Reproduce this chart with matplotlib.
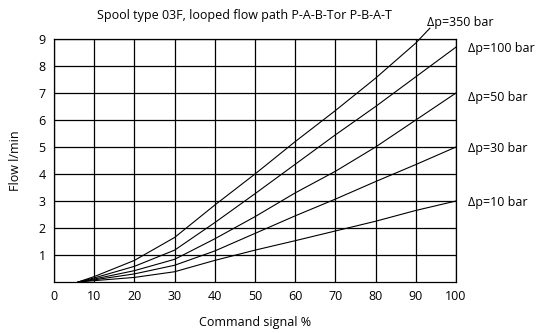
import matplotlib.pyplot as plt
import numpy as np

plt.rcParams['font.family'] = ['Open Sans', 'DejaVu Sans']

# command signal % and flow l/min
signal = [6, 10, 20, 30, 40, 50, 60, 70, 80, 90, 100]
signal_350 = [6, 10, 20, 30, 40, 50, 60, 70, 80, 90, 93.5]
flow_350 = [0, 0.2, 0.8, 1.65, 2.85, 4.0, 5.2, 6.35, 7.55, 8.85, 9.4]
flow_100 = [0, 0.15, 0.58, 1.18, 2.2, 3.27, 4.36, 5.45, 6.5, 7.6, 8.7]
flow_50 = [0, 0.11, 0.42, 0.84, 1.6, 2.42, 3.3, 4.1, 5.0, 6.0, 7.0]
flow_30 = [0, 0.08, 0.3, 0.62, 1.15, 1.8, 2.45, 3.07, 3.72, 4.35, 5.0]
flow_10 = [0, 0.05, 0.17, 0.38, 0.8, 1.18, 1.53, 1.89, 2.25, 2.65, 3.0]
labels = ['Δp=350 bar', 'Δp=100 bar', 'Δp=50 bar', 'Δp=30 bar', 'Δp=10 bar']

fig = plt.figure(figsize=(5.37, 3.33), dpi=100)
ax = fig.add_axes([54/537, 51/333, 402/537, 243/333])

series = [(signal_350, flow_350), (signal, flow_100), (signal, flow_50),
          (signal, flow_30), (signal, flow_10)]
for xs, ys in series:
    ax.plot(xs, ys, color='black', lw=0.8, clip_on=False, zorder=3)

ax.set_xlim(0, 100)
ax.set_ylim(0, 9)
ax.set_xticks(np.arange(0, 101, 10))
ax.set_yticks(np.arange(1, 10))
ax.grid(True, color='black', lw=0.9)
for s in ax.spines.values():
    s.set_color('black')
    s.set_linewidth(0.9)
ax.tick_params(length=0, labelsize=9, pad=6)

# curve labels to the right of the end points
label_pos = [(92.8, 9.6), (103, 8.65), (103, 6.85), (103, 4.95), (103, 2.95)]
for (lx, ly), txt in zip(label_pos, labels):
    ax.text(lx, ly, txt, fontsize=9, va='center', ha='left', clip_on=False)

ax.set_xlabel('Command signal %', fontsize=9, labelpad=9)
ax.set_ylabel('Flow l/min', fontsize=9, labelpad=12)
fig.text(244/537, 1 - 15/333, 'Spool type 03F, looped flow path P-A-B-Tor P-B-A-T',
         fontsize=9, ha='center', va='center')

fig.savefig('out.png', dpi=100)
